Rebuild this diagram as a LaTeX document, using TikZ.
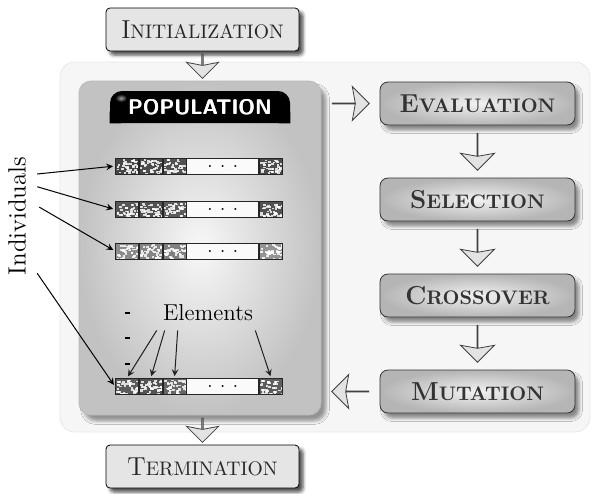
\documentclass[tikz,border=0pt]{standalone}
\usepackage{tikz}
\usetikzlibrary{positioning, calc, shapes.arrows, shadows.blur}

% capital letter followed by smaller capitals
\newcommand{\mycaps}[2]{{\fontsize{13}{13}\selectfont #1}{\fontsize{9.8}{10}\selectfont #2}}

\begin{document}
\begin{tikzpicture}[x=0.5pt, y=-0.5pt, >=stealth,
    endpoint/.style={draw=black, fill=gray!20, rounded corners=2pt, minimum width=96.5pt,
           minimum height=21.5pt, inner sep=0pt, text=black!85,
           blur shadow={shadow xshift=2pt, shadow yshift=-2pt, shadow opacity=70}},
    stepbox/.style={draw=gray!40!black, inner color=gray!10, outer color=gray!58, rounded corners=4pt,
           minimum width=97.5pt, minimum height=21.5pt, inner sep=0pt, font=\bfseries, text=black!80,
           blur shadow={shadow xshift=2pt, shadow yshift=-2.5pt, shadow opacity=45}},
    loopbg/.style={draw=gray!18, fill=gray!7, rounded corners=7.5pt, minimum width=265pt, minimum height=185pt},
    pool/.style={draw=gray!55, inner color=gray!6, outer color=gray!48, rounded corners=6pt,
           minimum width=121pt, minimum height=167pt,
           blur shadow={shadow xshift=2.5pt, shadow yshift=-3pt, shadow opacity=40}},
    poptab/.style={fill=black, rounded corners=6pt, minimum width=90pt, minimum height=16pt, inner sep=0pt,
           text=white, font=\fontsize{10.5}{11}\sffamily\bfseries},
    gene/.style={draw=gray!30!black, fill=black!#1, minimum width=11.5pt, minimum height=8pt, inner sep=0pt,
           path picture={\foreach \s in {1,...,40}
              \fill[white, opacity=0.8] ($(path picture bounding box.center)+(rand*11,rand*7)$) rectangle ++(2.6,1.8);}},
    blank/.style={draw=gray!30!black, fill=gray!4, minimum width=36pt, minimum height=8pt, inner sep=0pt,
           font=\fontsize{6}{6}\selectfont},
    hollow/.style={single arrow, draw=gray!50!black, fill=gray!22, single arrow head indent=1.5pt, inner sep=0pt},
    pointer/.style={->, draw=black, line width=0.5pt, shorten >=1pt},
    elemarrow/.style={->, draw=gray!25!black, line width=0.5pt, shorten >=1pt},
  ]
  \useasboundingbox (0,0) rectangle (592,493);

  % evolution loop
  \node[loopbg] (loop) at (325,247) {};
  \node[pool] (pop) at (200,248) {};
  \node[poptab] (tab) at (200,107) {POPULATION};
  \fill (tab.south west) rectangle ++(6pt,6pt) (tab.south east) rectangle ++(-6pt,6pt);
  \shade[inner color=gray!75, outer color=black] (121,98) ellipse (6 and 4);
  \node[poptab, fill=none] at (tab) {POPULATION};

  % chromosomes
  \pgfmathsetseed{3}
  \foreach \r/\y/\ga/\gb/\gc/\gd in {1/166/72/70/68/70, 2/209.5/66/68/64/68, 3/251/45/48/50/42, 4/386.5/64/67/60/63} {
    \node[gene=\ga, right] (g\r1) at (115,\y) {};
    \node[gene=\gb, right=0pt of g\r1] (g\r2) {};
    \node[gene=\gc, right=0pt of g\r2] (g\r3) {};
    \node[blank, right=0pt of g\r3] (g\r0) {\textbf{.\hspace{4pt}.\hspace{4pt}.}};
    \node[gene=\gd, right=0pt of g\r0] (g\r5) {};
  }

  \node[rotate=90, inner sep=2pt, font=\fontsize{12.5}{13}\selectfont] (ind) at (17,216) {Individuals};
  \draw[pointer] ($(ind.south east)!0.17!(ind.south west)+(7,0)$) -- (g11.west);
  \draw[pointer] ($(ind.south east)!0.27!(ind.south west)+(7,0)$) -- (g21.west);
  \draw[pointer] ($(ind.south east)!0.43!(ind.south west)+(9,0)$) -- (g31.west);
  \draw[pointer] ($(ind.south east)!0.95!(ind.south west)+(7,0)$) -- (g41.west);

  \node[inner sep=1pt, font=\fontsize{11.5}{12}\selectfont] (elem) at (208,313) {Elements};
  \foreach \y in {313,338,364} \draw[line width=1pt] (125,\y) -- (130,\y);
  \draw[elemarrow] ($(elem.south west)+(-4,7)$) -- (g41.north);
  \draw[elemarrow] ($(elem.south west)+(4,7)$) -- (g42.north);
  \draw[elemarrow] ($(elem.south west)+(17,7)$) -- (g43.north);
  \draw[elemarrow] ($(elem.south east)+(0,7)$) -- (g45.north);

  % operators
  \node[stepbox] (eval)  at (477.5,103.5) {\mycaps{E}{VALUATION}};
  \node[stepbox] (sel)   at (477.5,199.5) {\mycaps{S}{ELECTION}};
  \node[stepbox] (cross) at (477.5,295.5) {\mycaps{C}{ROSSOVER}};
  \node[stepbox] (mut)   at (477.5,391.5) {\mycaps{M}{UTATION}};

  \node[endpoint] (init) at (202.5,29.5)  {\mycaps{I}{NITIALIZATION}};
  \node[endpoint] (term) at (202.5,466.5) {\mycaps{T}{ERMINATION}};

  % flow arrows
  \node[hollow, rotate=-90, minimum width=16pt, single arrow head extend=4.75pt, minimum height=12pt] (a0)
     at ($(init.south)!0.5!(init.south |- pop.north)$) {};
  \node[hollow, minimum width=17pt, single arrow head extend=6.25pt, minimum height=18.5pt] (a1)
     at ($(pop.east |- eval.west)!0.5!(eval.west)$) {};
  \node[hollow, rotate=-90, minimum width=17pt, single arrow head extend=6.5pt, minimum height=18.5pt] (a2)
     at ($(eval.south)!0.5!(sel.north)$) {};
  \node[hollow, rotate=-90, minimum width=17pt, single arrow head extend=6.5pt, minimum height=18.5pt] (a3)
     at ($(sel.south)!0.5!(cross.north)$) {};
  \node[hollow, rotate=-90, minimum width=17pt, single arrow head extend=6.5pt, minimum height=18.5pt] (a4)
     at ($(cross.south)!0.5!(mut.north)$) {};
  \node[hollow, rotate=180, minimum width=17pt, single arrow head extend=6.25pt, minimum height=18.5pt] (a5)
     at ($(pop.east |- mut.west)!0.5!(mut.west)$) {};
  \node[hollow, rotate=-90, minimum width=16pt, single arrow head extend=4.75pt, minimum height=12pt] (a6)
     at ($(term.north |- pop.south)!0.5!(term.north)$) {};
\end{tikzpicture}
\end{document}
